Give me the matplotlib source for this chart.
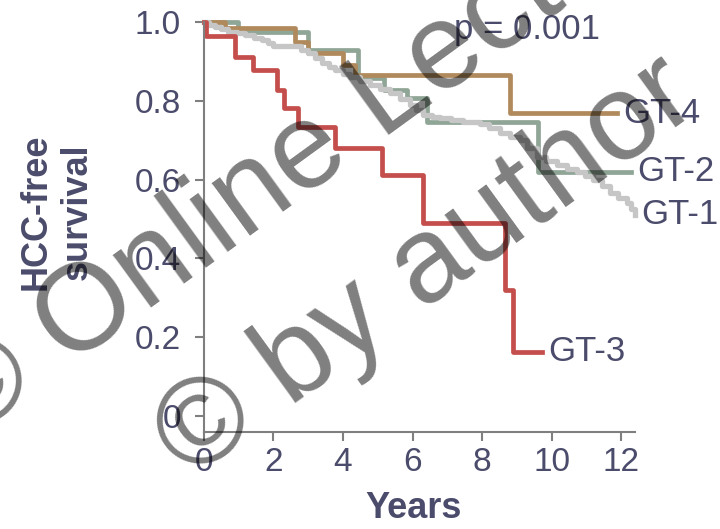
import matplotlib.pyplot as plt

plt.rcParams['font.family'] = ['Liberation Sans', 'DejaVu Sans']

# Kaplan-Meier steps: (years, HCC-free survival)
gt1_years = [0.00, 0.15, 0.32, 0.50, 0.69, 0.95, 1.18, 1.45, 1.67, 1.85, 1.99,
             2.80, 2.99, 3.20, 3.40, 3.60, 3.77, 4.00, 4.20, 4.50, 4.78, 5.05,
             5.35, 5.65, 5.93, 6.10, 6.30, 6.55, 6.79, 7.10, 7.45, 7.94, 8.20,
             8.52, 8.80, 9.09, 9.30, 9.58, 9.85, 10.16, 10.45, 10.73, 10.95,
             11.19, 11.45, 11.68, 11.90, 12.17, 12.30, 12.40]
gt1_surv = [1.000, 0.993, 0.987, 0.981, 0.975, 0.971, 0.967, 0.960, 0.954, 0.946,
            0.939, 0.930, 0.922, 0.909, 0.896, 0.887, 0.878, 0.869, 0.860, 0.850,
            0.840, 0.830, 0.820, 0.805, 0.789, 0.777, 0.764, 0.760, 0.756, 0.751,
            0.746, 0.741, 0.730, 0.718, 0.709, 0.700, 0.680, 0.657, 0.647, 0.637,
            0.628, 0.619, 0.609, 0.599, 0.583, 0.566, 0.553, 0.540, 0.525, 0.510]
gt2_years = [0.00, 0.98, 2.99, 4.43, 5.18, 5.84, 6.42, 9.61, 12.29]
gt2_surv = [1.000, 0.975, 0.929, 0.858, 0.827, 0.807, 0.746, 0.620, 0.620]
gt3_years = [0.00, 0.05, 0.89, 1.41, 2.10, 2.30, 2.70, 3.77, 5.11, 6.31, 8.66, 8.88, 9.72]
gt3_surv = [1.000, 0.965, 0.912, 0.878, 0.827, 0.782, 0.733, 0.680, 0.611, 0.489,
            0.319, 0.163, 0.163]
gt4_years = [0.00, 0.60, 2.62, 2.99, 4.00, 4.35, 8.81, 11.88]
gt4_surv = [1.000, 0.984, 0.950, 0.921, 0.891, 0.865, 0.768, 0.768]

x_ticks = [0, 2, 4, 6, 8, 10, 12]
y_ticks = [0, 0.2, 0.4, 0.6, 0.8, 1.0]
y_tick_labels = ['0', '0.2', '0.4', '0.6', '0.8', '1.0']
p_text = 'p = 0.001'

TEXT = '#4b4b6b'
AXIS = '#7f7f7f'

# drawn bottom to top
series = [
    ('GT-2', gt2_years, gt2_surv, '#8fa596', 3.4),
    ('GT-4', gt4_years, gt4_surv, '#b08a5c', 3.4),
    ('GT-1', gt1_years, gt1_surv, '#c6c6c6', 3.8),
    ('GT-3', gt3_years, gt3_surv, '#c44e4c', 3.4),
]

fig = plt.figure(figsize=(7.2, 5.29), dpi=100)
ax = fig.add_axes([0.2833, 0.1834, 0.5986, 0.775])

for name, years, surv, color, lw in series:
    ax.plot(years, surv, drawstyle='steps-post', color=color, lw=lw,
            clip_on=False)
    ax.text(years[-1] + 0.18, surv[-1], name, fontsize=25, color=TEXT,
            va='center', ha='left', clip_on=False)

ax.text(7.2, 0.98, p_text, fontsize=25, color=TEXT, va='center', ha='left')

ax.set_xlim(0, 12.4)
ax.set_ylim(-0.041, 1.0)
ax.set_xticks(x_ticks)
ax.set_yticks(y_ticks, y_tick_labels)

for side in ['top', 'right']:
    ax.spines[side].set_visible(False)
for side in ['left', 'bottom']:
    ax.spines[side].set_color(AXIS)
    ax.spines[side].set_linewidth(1.5)
ax.tick_params(length=6.5, width=1.5, color=AXIS, labelcolor=TEXT,
               labelsize=24)
ax.tick_params(axis='y', pad=10)
ax.tick_params(axis='x', pad=4)

ax.set_xlabel('Years', fontsize=26, fontweight='bold', color=TEXT)
ax.xaxis.set_label_coords(0.487, -0.145)
ax.set_ylabel('HCC-free\nsurvival', fontsize=26, fontweight='bold',
              color=TEXT, va='center', ha='center', linespacing=1.2)
ax.yaxis.set_label_coords(-0.342, 0.537)

# watermark over the chart
wm = dict(rotation=36, rotation_mode='anchor', ha='left', va='baseline',
          fontsize=88, color='black', alpha=0.5, zorder=10)
fig.text(-0.045, 0.166, '\u00a9 Online Lecture', **wm)
fig.text(0.2625, 0.0907, '\u00a9 by author', **wm)

fig.savefig('out.png', dpi=100, facecolor='white')
